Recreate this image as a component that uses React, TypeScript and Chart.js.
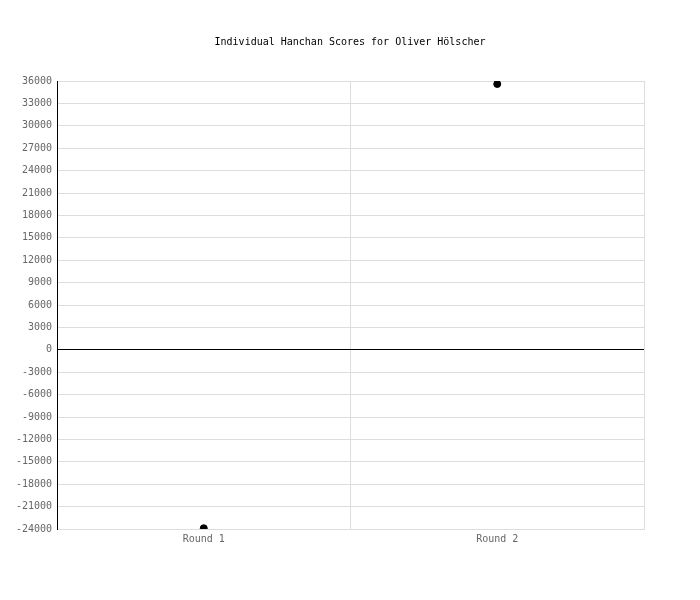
import { useEffect, useRef } from "react";
import { Chart, registerables, ChartConfiguration } from "chart.js";

Chart.register(...registerables);

const rounds = ["Round 1", "Round 2"];
const scores = [-23900, 35600];
const yMin = -24000;
const yMax = 36000;
const yStep = 3000;

const FONT = "'DejaVu Sans Mono', monospace";

export default function App() {
  const canvasRef = useRef<HTMLCanvasElement>(null);
  const chartRef = useRef<Chart | null>(null);

  useEffect(() => {
    if (!canvasRef.current) return;
    if (chartRef.current) chartRef.current.destroy();

    const config: ChartConfiguration = {
      type: "line",
      data: {
        labels: rounds,
        datasets: [
          {
            label: "Score",
            data: scores,
            showLine: false,
            pointRadius: 3.5,
            pointBackgroundColor: "#000",
            pointBorderColor: "#000",
            pointBorderWidth: 1,
            borderColor: "#000",
          },
        ],
      },
      options: {
        responsive: false,
        animation: false,
        layout: { padding: { left: 16, right: 16, top: 0, bottom: 51 } },
        plugins: {
          legend: { display: false },
          tooltip: { enabled: false },
          title: {
            display: true,
            text: "Individual Hanchan Scores for Oliver Hölscher",
            color: "#000",
            font: { family: FONT, size: 10, weight: "normal" },
            padding: { top: 36, bottom: 33 },
          },
        },
        scales: {
          x: {
            offset: true,
            grid: {
              offset: true,
              color: "#dddddd",
              drawTicks: false,
            },
            border: { color: "#dddddd" },
            ticks: {
              color: "#666",
              padding: 4,
              font: { family: FONT, size: 10 },
            },
          },
          y: {
            min: yMin,
            max: yMax,
            afterFit: (scale) => {
              scale.width = 41;
            },
            grid: {
              drawTicks: false,
              color: (ctx) => (ctx.tick && ctx.tick.value === 0 ? "#000" : "#dddddd"),
            },
            border: { color: "#000" },
            ticks: {
              stepSize: yStep,
              color: "#666",
              padding: 5,
              font: { family: FONT, size: 10 },
              callback: (value) => String(value),
            },
          },
          // empty spacer on the right so the title stays centred on the canvas
          yRight: {
            position: "right",
            min: yMin,
            max: yMax,
            afterFit: (scale) => {
              scale.width = 40;
            },
            grid: { display: false, drawTicks: false },
            border: { display: false },
            ticks: { display: false },
          },
        },
      },
    };

    chartRef.current = new Chart(canvasRef.current, config);
    return () => {
      if (chartRef.current) chartRef.current.destroy();
      chartRef.current = null;
    };
  }, []);

  return (
    <div
      style={{
        position: "absolute",
        left: 0,
        top: 0,
        width: 700,
        height: 600,
        background: "#fff",
      }}
    >
      <canvas ref={canvasRef} width={700} height={600} />
    </div>
  );
}
